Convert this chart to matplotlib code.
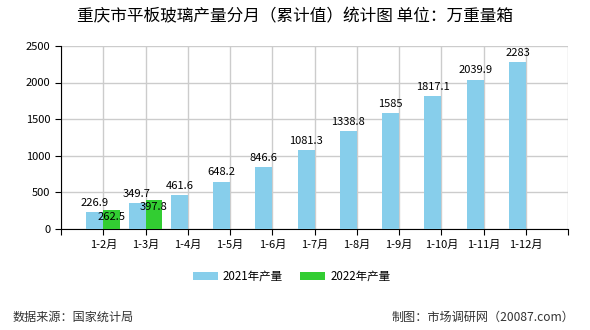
import matplotlib
matplotlib.use('Agg')
import matplotlib.pyplot as plt
import numpy as np

plt.rcParams['font.family'] = ['Noto Sans CJK SC', 'DejaVu Sans']

months = ['1-2月', '1-3月', '1-4月', '1-5月', '1-6月', '1-7月', '1-8月',
          '1-9月', '1-10月', '1-11月', '1-12月']
y2021 = [226.9, 349.7, 461.6, 648.2, 846.6, 1081.3, 1338.8, 1585, 1817.1, 2039.9, 2283]
y2022 = [262.5, 397.8]
labels2021 = ['226.9', '349.7', '461.6', '648.2', '846.6', '1081.3', '1338.8',
              '1585', '1817.1', '2039.9', '2283']
labels2022 = ['262.5', '397.8']

fig = plt.figure(figsize=(5.9, 3.3), dpi=100)
ax = fig.add_axes([0.1034, 0.306, 0.8596, 0.555])

x = np.arange(len(months))
w = 0.4
ax.bar(x - w / 2, y2021, w, color='#87CEEB', label='2021年产量', zorder=3)
ax.bar(x[:len(y2022)] + w / 2, y2022, w, color='#32CD32', label='2022年产量', zorder=3)

for xi, v, t in zip(x, y2021, labels2021):
    ax.annotate(t, (xi - w / 2, v), xytext=(0, 3), textcoords='offset points',
                ha='center', va='bottom', fontsize=8)
for xi, v, t in zip(x, y2022, labels2022):
    ax.annotate(t, (xi + w / 2, v), xytext=(0, -5), textcoords='offset points',
                ha='center', va='center', fontsize=8, zorder=4)

ax.set_xlim(-1, len(months))
ax.set_ylim(0, 2500)
ax.set_yticks(range(0, 2501, 500))
ax.set_xticks(np.arange(-1, len(months) + 1))
ax.set_xticklabels([''] + months + [''])
ax.tick_params(labelsize=8, length=4, color='black')
ax.grid(True, color='#cccccc', linewidth=1, zorder=0)
ax.spines['top'].set_visible(False)
ax.spines['right'].set_visible(False)

fig.legend(loc='center', bbox_to_anchor=(0.494, 0.163), ncol=2, frameon=False,
           fontsize=8.3, handlelength=2.2, handleheight=0.7, handletextpad=0.4,
           columnspacing=1.5)

fig.text(0.5, 0.948, '重庆市平板玻璃产量分月（累计值）统计图 单位：万重量箱',
         ha='center', va='center', fontsize=12)
fig.text(0.021, 0.037, '数据来源：国家统计局', ha='left', va='center', fontsize=8.7, color='#333333')
fig.text(0.974, 0.037, '制图：市场调研网（20087.com）', ha='right', va='center', fontsize=8.7, color='#333333')

fig.savefig('out.png', dpi=100)
